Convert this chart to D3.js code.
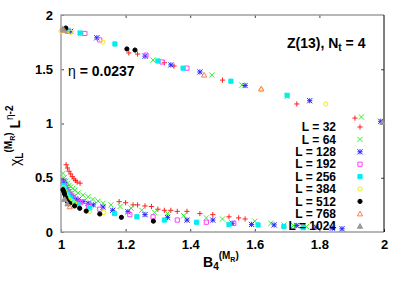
<!DOCTYPE html>
<html>
<head>
<meta charset="utf-8">
<script src="https://cdn.jsdelivr.net/npm/d3@7"></script>
<style>
  body { margin: 0; background: #fff; }
  text { font-family: "Liberation Sans", Arial, sans-serif; font-weight: bold; }
</style>
</head>
<body>
<div id="chart"></div>
<script>
// legend order
const sizes = ["32", "64", "128", "192", "256", "384", "512", "768", "1024"];
const colors = ["#ff2020", "#33ee33", "#2828ff", "#ff40ff", "#00eeee", "#eeee00", "#000000", "#ff7a50", "#999999"];
const shapes = ["plus", "cross", "star", "square", "fsquare", "circle", "fcircle", "triangle", "ftriangle"];

const xTicks = [1, 1.2, 1.4, 1.6, 1.8, 2];
const yTicks = [0, 0.5, 1, 1.5, 2];

// lower branch, [B4, chi * L^(eta-2)]
const low32 = [[1.016,0.62],[1.02,0.59],[1.025,0.56],[1.03,0.535],[1.035,0.51],[1.04,0.49],[1.045,0.475],[1.05,0.46],[1.059,0.45],
  [1.18,0.28],[1.20,0.27],[1.223,0.25],[1.237,0.25],[1.26,0.24],[1.28,0.235],[1.30,0.21],[1.32,0.2],[1.34,0.2],[1.36,0.19],[1.39,0.19],
  [1.43,0.17],[1.47,0.16],[1.52,0.14],[1.55,0.13],[1.57,0.12]];
const low64 = [[1.006,0.54],[1.01,0.5],[1.015,0.47],[1.02,0.45],[1.025,0.43],[1.03,0.415],[1.036,0.4],[1.043,0.385],[1.053,0.36],[1.068,0.34],
  [1.084,0.325],[1.099,0.3],[1.115,0.285],[1.13,0.265],[1.155,0.25],[1.183,0.235],[1.217,0.22],[1.25,0.2],[1.29,0.18],[1.33,0.17],
  [1.38,0.15],[1.45,0.13],[1.5,0.12],[1.6,0.1],[1.65,0.08],[1.69,0.065],[1.72,0.06],[1.76,0.05]];
const low128 = [[1.008,0.47],[1.011,0.44],[1.015,0.41],[1.018,0.39],[1.022,0.37],[1.027,0.35],[1.032,0.33],[1.037,0.32],[1.045,0.305],
  [1.053,0.295],[1.068,0.28],[1.084,0.265],[1.1,0.25],[1.13,0.23],[1.16,0.2],[1.207,0.187],[1.26,0.16],[1.33,0.135],[1.39,0.11],
  [1.47,0.11],[1.53,0.08],[1.59,0.07],[1.66,0.065],[1.73,0.06],[1.79,0.045],[1.84,0.035],[1.87,0.03]];
const low192 = [[1.008,0.45],[1.011,0.42],[1.015,0.39],[1.02,0.37],[1.025,0.355],[1.031,0.34],[1.038,0.32],[1.046,0.3],[1.06,0.27],
  [1.085,0.24],[1.12,0.21],[1.213,0.16],[1.285,0.14],[1.36,0.11],[1.45,0.09],[1.535,0.08]];
const low256 = [[1.008,0.43],[1.011,0.4],[1.015,0.37],[1.019,0.35],[1.022,0.34],[1.03,0.31],[1.037,0.28],[1.053,0.25],[1.089,0.22],
  [1.166,0.17],[1.235,0.14],[1.32,0.11],[1.42,0.09],[1.52,0.07],[1.61,0.065],[1.69,0.05],[1.75,0.04]];
const low384 = [[1.008,0.41],[1.011,0.38],[1.015,0.35],[1.02,0.32],[1.027,0.295],[1.034,0.28],[1.042,0.265],[1.089,0.19],[1.132,0.18]];
const low512 = [[1.006,0.39],[1.009,0.37],[1.011,0.35],[1.014,0.32],[1.016,0.3],[1.02,0.28],[1.027,0.265],[1.042,0.24],[1.058,0.218],
  [1.078,0.193],[1.12,0.166],[1.187,0.135],[1.286,0.1]];
const low768 = [[1.027,0.233],[1.012,0.3]];
const low1024 = [[1.01,0.3],[1.02,0.26]];

// upper branch
const up32 = [[1.005,1.87],[1.21,1.65],[1.237,1.64],[1.32,1.56],[1.35,1.53],[1.5,1.4],[1.73,1.18],[1.91,1.05]];
const up64 = [[1.02,1.86],[1.06,1.83],[1.285,1.585],[1.467,1.447],[1.56,1.355],[1.7,1.25],[1.93,1.06]];
const up128 = [[1.03,1.85],[1.111,1.79],[1.26,1.62],[1.34,1.54],[1.43,1.475],[1.57,1.35],[1.77,1.21],[1.99,1.02]];
const up192 = [[1.02,1.85],[1.074,1.83],[1.12,1.77],[1.263,1.63],[1.313,1.567],[1.39,1.51]];
const up256 = [[1.015,1.86],[1.059,1.834],[1.167,1.733],[1.3,1.576],[1.378,1.51],[1.526,1.39],[1.7,1.26]];
const up384 = [[1.0,1.85],[1.03,1.84],[1.13,1.75],[1.62,1.31],[1.82,1.18]];
const up512 = [[1.015,1.88],[1.204,1.687],[1.229,1.677]];
const up768 = [[1.01,1.86],[1.443,1.447],[1.62,1.32]];
const up1024 = [[1.005,1.87],[1.995,1.01]];

const lows = [low32, low64, low128, low192, low256, low384, low512, low768, low1024];
const ups = [up32, up64, up128, up192, up256, up384, up512, up768, up1024];

const W = 407, H = 285;
const svg = d3.select("#chart").append("svg").attr("width", W).attr("height", H);

const x = d3.scaleLinear().domain([1, 2]).range([61, 384]);
const y = d3.scaleLinear().domain([0, 2]).range([232, 15]);

// gnuplot style point types
function pointPath(type, r) {
  const p = d3.path();
  if (type === "plus" || type === "star") {
    p.moveTo(-r, 0); p.lineTo(r, 0); p.moveTo(0, -r); p.lineTo(0, r);
  }
  if (type === "cross" || type === "star") {
    p.moveTo(-r, -r); p.lineTo(r, r); p.moveTo(-r, r); p.lineTo(r, -r);
  }
  if (type === "square" || type === "fsquare") p.rect(-r + 0.5, -r + 0.5, 2 * r - 1, 2 * r - 1);
  if (type === "circle" || type === "fcircle") { p.moveTo(r - 0.5, 0); p.arc(0, 0, r - 0.5, 0, 2 * Math.PI); }
  if (type === "triangle" || type === "ftriangle") {
    p.moveTo(0, -r); p.lineTo(r, r * 0.8); p.lineTo(-r, r * 0.8); p.closePath();
  }
  return p.toString();
}
function filled(type) { return type.charAt(0) === "f"; }

// axes, ticks inward
const fontSize = "13px";
svg.append("g").attr("transform", "translate(0,232)")
  .call(d3.axisBottom(x).tickValues(xTicks).tickSize(-3).tickPadding(8).tickFormat(d3.format("")));
svg.append("g").attr("transform", "translate(61,0)")
  .call(d3.axisLeft(y).tickValues(yTicks).tickSize(-3).tickPadding(8).tickFormat(d3.format("")));
svg.append("g").attr("transform", "translate(0,15)")
  .call(d3.axisTop(x).tickValues(xTicks.slice(1, -1)).tickSize(-3).tickFormat(""));
svg.append("g").attr("transform", "translate(384,0)")
  .call(d3.axisRight(y).tickValues(yTicks.slice(1, -1)).tickSize(-3).tickFormat(""));
svg.selectAll(".domain").remove();
svg.selectAll(".tick line").attr("stroke", "#444");
svg.selectAll(".tick text").attr("fill", "#000").style("font-size", fontSize)
  .style("font-family", "'Liberation Sans', Arial, sans-serif").style("font-weight", "bold");

// border: gray on left/top/bottom, black on right
svg.append("path").attr("d", "M384,15H61V232H384").attr("fill", "none").attr("stroke", "#a0a0a0").attr("stroke-width", 1.5);
svg.append("line").attr("x1", 384).attr("x2", 384).attr("y1", 15).attr("y2", 232).attr("stroke", "#000");

// points
const plot = svg.append("g");
for (let i = 0; i < sizes.length; i++) {
  const pts = lows[i].concat(ups[i]);
  plot.selectAll(null).data(pts).enter().append("path")
    .attr("transform", (d) => `translate(${x(d[0])},${y(d[1])})`)
    .attr("d", pointPath(shapes[i], 2.6))
    .attr("fill", filled(shapes[i]) ? colors[i] : "none")
    .attr("stroke", colors[i])
    .attr("stroke-width", 1);
}

// legend
for (let i = 0; i < sizes.length; i++) {
  const ly = 127 + 12.4 * i;
  svg.append("text").attr("x", 336).attr("y", ly).attr("dy", "0.35em")
    .attr("text-anchor", "end").style("font-size", "12px").text("L = " + sizes[i]);
  svg.append("path").attr("transform", `translate(360,${ly})`)
    .attr("d", pointPath(shapes[i], 2.6))
    .attr("fill", filled(shapes[i]) ? colors[i] : "none")
    .attr("stroke", colors[i]).attr("stroke-width", 1);
}

// title and eta
const title = svg.append("text").attr("x", 287).attr("y", 48).style("font-size", "14px");
title.append("tspan").text("Z(13), N");
title.append("tspan").attr("dy", 3).style("font-size", "10px").text("t");
title.append("tspan").attr("dy", -3).text(" = 4");

const eta = svg.append("text").attr("x", 68).attr("y", 76).style("font-size", "14px");
eta.append("tspan").style("font-weight", "normal").text("η");
eta.append("tspan").text(" = 0.0237");

// x label B4^(MR)
const xl = svg.append("text").attr("x", 203).attr("y", 267).style("font-size", "14px");
xl.append("tspan").text("B");
xl.append("tspan").attr("dy", 3).style("font-size", "10px").text("4");
xl.append("tspan").attr("dy", -11).style("font-size", "10px").text("(M");
xl.append("tspan").attr("dy", 3).style("font-size", "7px").text("R");
xl.append("tspan").attr("dy", -3).style("font-size", "10px").text(")");

// y label chi_L^(MR) L^(eta-2)
const yl = svg.append("text").attr("transform", "translate(20,166) rotate(-90)").style("font-size", "14px");
yl.append("tspan").style("font-weight", "normal").text("χ");
yl.append("tspan").attr("dy", 3).style("font-size", "10px").text("L");
yl.append("tspan").attr("dy", -11).style("font-size", "10px").text("(M");
yl.append("tspan").attr("dy", 3).style("font-size", "7px").text("R");
yl.append("tspan").attr("dy", -3).style("font-size", "10px").text(")");
yl.append("tspan").attr("dy", 8).text(" L");
yl.append("tspan").attr("dy", -7).style("font-size", "10px").style("font-weight", "normal").text("η");
yl.append("tspan").style("font-size", "10px").text("-2");
</script>
</body>
</html>
